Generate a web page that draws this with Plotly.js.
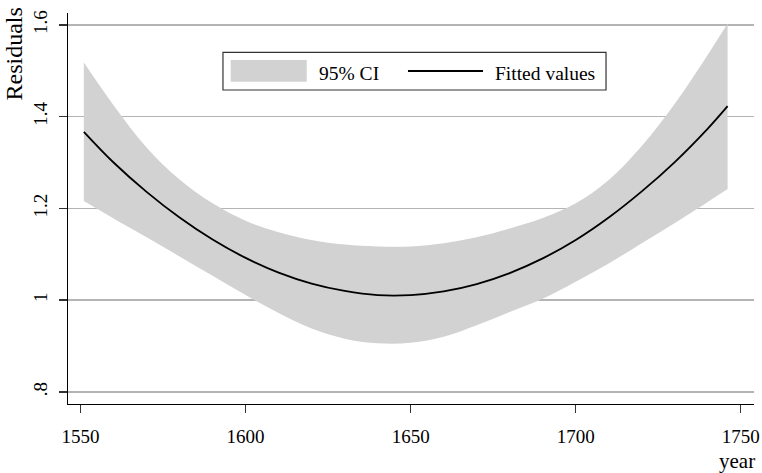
<!DOCTYPE html>
<html>
<head>
<meta charset="utf-8">
<script src="https://cdn.plot.ly/plotly-3.0.1.min.js"></script>
<style>
  html, body { margin: 0; padding: 0; background: #fff; }
  #chart { width: 762px; height: 473px; }
</style>
</head>
<body>
<div id="chart"></div>
<script>
// ---- data ----
const years = [1551, 1560, 1570, 1580, 1590, 1600, 1610, 1620, 1630, 1640, 1650,
               1660, 1670, 1680, 1690, 1700, 1710, 1720, 1730, 1740, 1746];
const fitted = [1.367, 1.300, 1.236, 1.180, 1.132, 1.092, 1.060, 1.036, 1.020, 1.011, 1.011,
                1.019, 1.035, 1.059, 1.091, 1.131, 1.180, 1.237, 1.301, 1.374, 1.423];
const ciUpper = [1.518, 1.425, 1.333, 1.263, 1.211, 1.173, 1.148, 1.131, 1.121, 1.117, 1.117,
                 1.124, 1.137, 1.156, 1.179, 1.211, 1.262, 1.336, 1.428, 1.535, 1.603];
const ciLower = [1.216, 1.178, 1.137, 1.095, 1.053, 1.011, 0.972, 0.938, 0.916, 0.906, 0.907,
                 0.920, 0.945, 0.974, 1.003, 1.040, 1.080, 1.124, 1.168, 1.214, 1.242];
const xTickVals = [1550, 1600, 1650, 1700, 1750];
const yTickVals = [0.8, 1.0, 1.2, 1.4, 1.6];
const yTickText = ['.8', '1', '1.2', '1.4', '1.6'];
const legendLabels = ['95% CI', 'Fitted values'];
const xTitle = 'year';
const yTitle = 'Residuals';

const FONT = 'Liberation Serif, Times New Roman, serif';
const BAND = '#d2d2d2';

const traces = [
  { x: years, y: ciLower, type: 'scatter', mode: 'lines', line: { width: 0, shape: 'spline', smoothing: 1 },
    hoverinfo: 'skip', showlegend: false, name: 'lower' },
  { x: years, y: ciUpper, type: 'scatter', mode: 'lines', line: { width: 0, shape: 'spline', smoothing: 1 },
    fill: 'tonexty', fillcolor: BAND, showlegend: false, name: legendLabels[0] },
  { x: years, y: fitted, type: 'scatter', mode: 'lines', line: { color: '#000', width: 1.8, shape: 'spline' },
    showlegend: false, name: legendLabels[1] }
];

// manual legend (paper coordinates)
const shapes = [
  { type: 'rect', xref: 'paper', yref: 'paper', x0: 0.2259, x1: 0.7843, y0: 0.8031, y1: 0.8995,
    line: { color: '#333', width: 1.2 }, fillcolor: '#fff', layer: 'above' },
  { type: 'rect', xref: 'paper', yref: 'paper', x0: 0.2372, x1: 0.3480, y0: 0.8243, y1: 0.8798,
    line: { width: 0 }, fillcolor: BAND, layer: 'above' },
  { type: 'line', xref: 'paper', yref: 'paper', x0: 0.4956, x1: 0.6050, y0: 0.8517, y1: 0.8517,
    line: { color: '#000', width: 1.8 }, layer: 'above' }
];

const annotations = [
  { xref: 'paper', yref: 'paper', x: 0.3625, y: 0.846, xanchor: 'left', yanchor: 'middle',
    text: legendLabels[0], showarrow: false, font: { family: FONT, size: 19.5, color: '#000' } },
  { xref: 'paper', yref: 'paper', x: 0.6195, y: 0.846, xanchor: 'left', yanchor: 'middle',
    text: legendLabels[1], showarrow: false, font: { family: FONT, size: 19.5, color: '#000' } },
  { xref: 'paper', yref: 'paper', x: -0.0773, y: 1.0205, xanchor: 'center', yanchor: 'top',
    textangle: -90, text: yTitle, showarrow: false, font: { family: FONT, size: 24, color: '#000' } },
  { xref: 'paper', yref: 'paper', x: 1.0044, y: -0.1458, xanchor: 'right', yanchor: 'middle',
    text: xTitle, showarrow: false, font: { family: FONT, size: 21, color: '#000' } }
];

const layout = {
  width: 762, height: 473,
  margin: { l: 68, r: 8, t: 13, b: 69 },
  paper_bgcolor: '#fff', plot_bgcolor: '#fff',
  font: { family: FONT, size: 19, color: '#000' },
  showlegend: false,
  xaxis: {
    range: [1546.2, 1754.0], tickvals: xTickVals, ticktext: xTickVals.map(String),
    showgrid: false, zeroline: false, showline: true, linecolor: '#000', linewidth: 1.3,
    ticks: 'outside', ticklen: 8, tickwidth: 1.3, tickcolor: '#333',
    ticklabelstandoff: 7, tickfont: { family: FONT, size: 19, color: '#000' }
  },
  yaxis: {
    range: [0.7735, 1.626], tickvals: yTickVals, ticktext: yTickText, tickangle: -90,
    showgrid: true, gridcolor: '#b4b4b4', gridwidth: 1.5, zeroline: false,
    showline: true, linecolor: '#000', linewidth: 1.3,
    ticks: 'outside', ticklen: 8, tickwidth: 1.3, tickcolor: '#333',
    ticklabelstandoff: 4, tickfont: { family: FONT, size: 19, color: '#000' }
  },
  shapes: shapes,
  annotations: annotations
};

Plotly.newPlot('chart', traces, layout, { displayModeBar: false, staticPlot: true });
</script>
</body>
</html>
